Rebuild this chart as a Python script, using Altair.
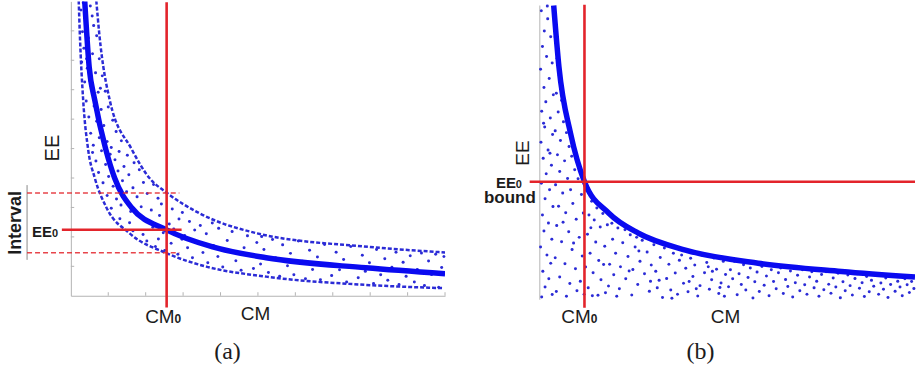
import altair as alt
import pandas as pd

# ---------------- panel (a) data ----------------
a_mid_cm = [0.37, 0.49, 0.64, 0.93, 1.17, 1.62, 2.56, 3.79, 5.22, 7.88, 10.0]
a_mid_ee = [10.03, 7.77, 6.64, 4.99, 4.0, 3.0, 2.24, 1.66, 1.29, 0.95, 0.75]
a_up_cm = [0.68, 0.76, 1.04, 1.62, 2.1, 2.56, 3.44, 4.98, 7.97, 10.0]
a_up_ee = [10.03, 8.9, 6.64, 4.99, 4.0, 3.5, 2.8, 2.12, 1.66, 1.47]
a_lo_cm = [0.21, 0.24, 0.33, 0.46, 0.64, 0.95, 1.57, 2.55, 3.62, 5.22, 7.88, 9.93]
a_lo_ee = [10.03, 8.9, 6.64, 4.99, 4.0, 3.0, 2.12, 1.45, 0.99, 0.65, 0.37, 0.26]

a_dots = [
    (0.27, 9.71), (0.52, 9.84), (0.39, 9.42), (0.61, 9.18), (0.31, 8.97), (0.47, 8.76), (0.69, 8.83), (0.35, 8.41),
    (0.58, 8.22), (0.76, 8.05), (0.29, 7.94), (0.44, 7.73), (0.66, 7.58), (0.84, 7.47), (0.37, 7.26), (0.55, 7.04),
    (0.73, 6.91), (0.92, 6.95), (0.41, 6.62), (0.62, 6.45), (0.81, 6.33), (1.0, 6.41), (0.48, 6.07), (0.69, 5.93),
    (0.88, 5.78), (1.12, 5.96), (0.53, 5.52), (0.76, 5.37), (0.97, 5.24), (1.21, 5.58), (1.35, 5.27), (0.6, 5.11),
    (1.08, 5.04), (0.33, 9.95), (0.57, 9.5), (0.42, 8.05), (0.5, 7.31), (0.79, 7.05),
    (0.58, 4.87), (0.82, 4.93), (1.05, 4.81), (1.29, 4.9), (1.51, 4.77), (0.67, 4.58), (0.93, 4.46), (1.18, 4.62),
    (1.42, 4.39), (1.69, 4.52), (0.74, 4.19), (1.01, 4.05), (1.26, 4.24), (1.55, 4.11), (1.83, 4.28), (0.86, 3.84),
    (1.13, 3.72), (1.38, 3.91), (1.66, 3.67), (1.94, 3.85), (2.21, 3.78), (0.97, 3.41), (1.22, 3.29), (1.49, 3.53),
    (1.77, 3.36), (2.04, 3.47), (2.33, 3.31), (1.08, 2.97), (1.34, 3.08), (1.6, 2.86), (1.88, 3.02), (2.15, 2.91),
    (2.42, 3.12), (2.71, 2.95), (2.98, 2.83), (1.31, 2.62), (1.57, 2.48), (1.84, 2.69), (2.09, 2.54), (2.37, 2.73),
    (2.63, 2.44), (2.89, 2.61), (3.17, 2.52), (3.46, 2.39), (3.78, 2.47), (1.66, 2.21), (1.93, 2.08), (2.19, 2.33),
    (2.47, 2.14), (2.75, 2.27), (3.04, 2.05), (3.31, 2.23), (3.62, 2.11), (3.95, 2.29), (4.31, 2.18), (4.72, 2.04),
    (5.1, 2.01),
    (2.03, 1.86), (2.26, 1.67), (2.51, 1.54), (2.34, 1.93), (2.68, 1.78), (2.86, 1.41), (2.97, 1.92), (3.12, 1.63),
    (3.25, 1.29), (3.39, 1.84), (3.53, 1.47), (3.66, 1.12), (3.81, 1.71), (3.93, 1.33), (4.06, 0.98), (4.18, 1.88),
    (4.24, 1.52), (4.41, 1.19), (4.55, 0.87), (4.63, 1.63), (4.79, 1.36), (4.88, 0.93), (4.97, 1.81),
    (5.07, 1.08), (5.16, 1.57), (5.28, 0.79), (5.39, 1.91), (5.47, 1.29), (5.58, 0.66), (5.66, 1.73), (5.79, 1.02),
    (5.87, 1.44), (5.96, 0.71), (6.08, 1.86), (6.19, 1.17), (6.27, 0.58), (6.38, 1.55), (6.46, 0.89), (6.59, 1.32),
    (6.67, 0.54), (6.78, 1.74), (6.86, 1.07), (6.97, 0.69), (7.09, 1.48), (7.18, 0.88), (7.29, 1.23), (7.37, 0.47),
    (7.48, 1.67), (7.56, 0.99), (7.68, 0.61), (7.79, 1.38), (7.87, 0.83), (7.98, 1.12), (8.09, 0.42), (8.17, 1.57),
    (8.28, 0.71), (8.39, 1.26), (8.47, 0.53), (8.58, 0.97), (8.69, 1.48), (8.77, 0.38), (8.88, 1.14), (8.96, 0.66),
    (9.07, 1.36), (9.18, 0.47), (9.26, 0.89), (9.37, 1.45), (9.45, 0.35), (9.56, 1.18), (9.64, 0.72), (9.75, 1.41),
    (9.83, 0.29), (9.91, 0.96), (9.97, 1.33),
]

a_cm0 = 2.56
a_ee0 = 2.24
a_interval = [1.46, 3.49]
a_ticks = [1, 2, 3, 4, 5, 6, 7, 8, 9]

# ---------------- panel (b) data ----------------
b_cm = [0.37, 0.51, 0.82, 1.19, 1.84, 2.63, 3.88, 5.82, 8.04, 10.0]
b_ee = [10.0, 7.91, 5.65, 4.01, 2.94, 2.26, 1.69, 1.24, 0.96, 0.77]

b_dots = [
    (0.04, 9.82), (0.21, 9.55), (0.12, 9.13), (0.29, 8.94), (0.07, 8.61), (0.18, 8.27), (0.33, 8.05), (0.02, 7.83),
    (0.25, 7.52), (0.11, 7.21), (0.36, 6.97), (0.16, 6.73), (0.05, 6.41), (0.28, 6.18), (0.13, 5.87), (0.34, 5.62),
    (0.03, 5.35), (0.22, 5.09), (0.09, 4.81), (0.31, 4.57), (0.17, 4.28), (0.04, 3.96), (0.26, 3.74), (0.14, 3.43),
    (0.35, 3.17), (0.07, 2.88), (0.23, 2.61), (0.11, 2.34), (0.32, 2.06), (0.02, 1.79), (0.19, 1.52), (0.29, 1.24),
    (0.08, 0.97), (0.24, 0.71), (0.14, 0.43), (0.33, 0.18), (0.05, 0.09), (0.2, 9.98), (0.27, 4.98), (0.1, 6.0),
    (0.41, 8.93), (0.46, 8.21), (0.52, 7.63), (0.44, 7.02), (0.58, 6.77), (0.49, 6.38), (0.63, 6.05), (0.41, 5.74),
    (0.55, 5.41), (0.71, 5.68), (0.47, 4.93), (0.66, 4.72), (0.78, 5.21), (0.53, 4.36), (0.85, 4.88), (0.74, 4.12),
    (0.42, 3.91), (0.61, 3.63), (0.93, 4.42), (0.82, 3.74), (1.02, 4.11), (0.5, 3.18), (0.69, 2.96), (0.88, 3.27),
    (1.11, 3.58), (0.45, 2.52), (0.77, 2.31), (0.97, 2.74), (1.16, 2.95), (0.58, 1.97), (0.86, 1.71), (1.05, 2.12),
    (0.41, 1.43), (0.67, 1.22), (0.95, 1.05), (1.13, 1.49), (0.53, 0.77), (0.8, 0.55), (1.08, 0.63), (0.44, 0.28),
    (0.71, 0.12), (0.99, 0.31), (1.18, 0.19), (0.62, 2.63), (0.9, 1.93),
    (1.24, 3.71), (1.31, 2.88), (1.38, 3.35), (1.27, 2.23), (1.45, 2.71), (1.52, 3.12), (1.34, 1.58), (1.49, 1.96),
    (1.61, 2.47), (1.68, 2.93), (1.42, 0.92), (1.57, 1.33), (1.73, 1.82), (1.8, 2.55), (1.29, 0.41), (1.63, 0.68),
    (1.86, 1.21), (1.94, 2.06), (1.75, 0.24), (2.02, 1.58), (2.08, 2.44), (1.97, 0.85), (2.15, 1.12), (2.21, 1.94),
    (2.12, 0.37), (2.29, 0.71), (2.35, 1.47), (2.41, 2.21), (2.27, 2.38), (2.48, 1.03), (2.54, 1.79), (2.45, 0.16),
    (2.61, 0.52), (2.67, 1.31), (2.73, 2.02), (2.79, 0.88), (2.86, 1.62), (2.92, 0.29), (2.97, 1.18), (1.36, 2.45),
    (1.55, 0.15), (1.92, 2.6), (2.58, 2.12), (1.7, 1.2), (1.83, 0.47), (2.05, 0.12), (2.38, 0.98), (2.64, 1.66),
    (2.95, 0.63), (1.22, 1.11), (1.4, 0.14),
    (3.04, 1.87), (3.09, 0.97), (3.13, 0.41), (3.21, 1.44), (3.27, 0.08), (3.32, 1.76), (3.38, 0.72), (3.44, 1.21),
    (3.49, 0.33), (3.56, 1.58), (3.61, 0.91), (3.67, 0.19), (3.72, 1.34), (3.78, 1.52), (3.83, 0.56), (3.89, 1.07),
    (3.95, 0.27), (4.02, 1.41), (4.08, 0.79), (4.13, 1.18), (4.21, 0.13), (4.27, 0.48), (4.33, 1.51), (4.39, 0.92),
    (4.45, 1.27), (4.52, 0.36), (4.58, 0.68), (4.64, 1.42), (4.71, 1.04), (4.77, 0.21), (4.83, 0.57), (4.89, 1.31),
    (4.95, 0.86), (3.18, 0.66), (3.52, 0.05), (4.17, 0.37), (4.49, 1.12), (4.8, 0.42), (3.98, 0.62), (4.6, 0.97),
    (4.92, 0.12),
    (5.03, 0.44), (5.08, 1.02), (5.14, 0.71), (5.19, 1.31), (5.26, 0.17), (5.31, 0.88), (5.37, 0.52), (5.43, 1.19),
    (5.49, 0.33), (5.55, 0.76), (5.61, 1.08), (5.68, 0.06), (5.73, 0.61), (5.79, 0.94), (5.85, 0.28), (5.92, 1.13),
    (5.98, 0.49), (6.04, 0.81), (6.11, 0.14), (6.17, 1.02), (6.23, 0.62), (6.3, 0.37), (6.36, 0.92), (6.42, 1.08),
    (6.49, 0.21), (6.55, 0.69), (6.61, 0.45), (6.68, 0.98), (6.74, 0.09), (6.81, 0.58), (6.87, 0.83), (6.93, 0.31),
    (7.0, 1.02), (7.06, 0.51), (7.12, 0.19), (7.19, 0.77), (7.25, 0.95), (7.31, 0.41), (7.38, 0.63), (7.44, 0.12),
    (7.51, 0.86), (7.57, 0.34), (7.63, 0.95), (7.7, 0.53), (7.76, 0.22), (7.82, 0.74), (7.89, 0.43), (7.95, 0.9),
    (8.01, 0.07), (8.08, 0.61), (8.14, 0.31), (8.21, 0.84), (8.27, 0.48), (8.33, 0.16), (8.4, 0.72), (8.46, 0.88),
    (8.52, 0.39), (8.59, 0.58), (8.65, 0.11), (8.71, 0.79), (8.78, 0.27), (8.84, 0.66), (8.9, 0.46), (8.97, 0.83),
    (9.03, 0.19), (9.09, 0.57), (9.16, 0.36), (9.22, 0.74), (9.28, 0.08), (9.35, 0.52), (9.41, 0.79), (9.47, 0.29),
    (9.54, 0.63), (9.6, 0.43), (9.66, 0.14), (9.73, 0.71), (9.79, 0.51), (9.85, 0.25), (9.91, 0.62), (9.97, 0.38),
]

b_cm0 = 1.19
b_ee0 = 4.01

# ---------------- styles ----------------
BLUE = "#0a0af0"
DOT = "#2b2bd6"
RED = "#e3242b"
GREY = "#b4b4b4"
INK = "#1c1c1c"
FONT = "Liberation Sans"

WA, HA = 375, 295
WB, HB = 376, 299

sxa = alt.Scale(domain=[0, 10], nice=False, zero=False)
sya = alt.Scale(domain=[0, 10], nice=False, zero=False)
sxb = alt.Scale(domain=[0, 10], nice=False, zero=False)
syb = alt.Scale(domain=[0, 10.14], nice=False, zero=False)

axis_on = alt.Axis(title=None, labels=False, ticks=False, grid=False,
                   domainColor=GREY, domainWidth=1.0)


def X(f, s, ax=True):
    return alt.X(f, type="quantitative", scale=s, axis=axis_on if ax else None, title=None)


def Y(f, s, ax=True):
    return alt.Y(f, type="quantitative", scale=s, axis=axis_on if ax else None, title=None)


def line(cm, ee, sx, sy, ax=True, **mk):
    df = pd.DataFrame({"cm": cm, "ee": ee, "o": list(range(len(cm)))})
    return alt.Chart(df).mark_line(interpolate="monotone", clip=True, **mk).encode(
        x=X("cm", sx, ax), y=Y("ee", sy, ax), order="o:Q")


def rules(df, sx, sy, ax=True, **mk):
    enc = {"x": X("cm", sx, ax), "y": Y("ee", sy, ax)}
    if "cm2" in df:
        enc["x2"] = alt.X2("cm2")
    if "ee2" in df:
        enc["y2"] = alt.Y2("ee2")
    return alt.Chart(df).mark_rule(**mk).encode(**enc)


def dots(pairs, sx, sy, ax=True):
    df = pd.DataFrame({"cm": [p[0] for p in pairs], "ee": [p[1] for p in pairs]})
    return alt.Chart(df).mark_circle(size=9, color=DOT, opacity=1).encode(
        x=X("cm", sx, ax), y=Y("ee", sy, ax))


def label(txt, x, y, size, bold=False, angle=0, align="center", baseline="middle", family=FONT, color=INK):
    kw = dict(fontSize=size, font=family, color=color, align=align, baseline=baseline,
              fontWeight="bold" if bold else "normal")
    if angle:
        kw["angle"] = angle
    return alt.Chart(pd.DataFrame({"t": [txt]})).mark_text(**kw).encode(
        text="t:N", x=alt.value(x), y=alt.value(y))


# invisible frame that pins the page's top-left corner to the figure's corner
frame = alt.Chart(pd.DataFrame({"k": [0]})).mark_rule(opacity=0, color="white").encode(
    x=alt.value(-71), x2=alt.value(846), y=alt.value(-1), y2=alt.value(370))

# ---------------- panel (a) ----------------
ticks_xa = rules(pd.DataFrame({"cm": a_ticks + [10], "ee": [0] * 10, "ee2": [0.12] * 10}), sxa, sya,
                 color=GREY, strokeWidth=1)
ticks_ya = rules(pd.DataFrame({"cm": [0] * 9, "cm2": [0.09] * 9, "ee": a_ticks}), sxa, sya,
                 color=GREY, strokeWidth=1)

bracket_a = rules(pd.DataFrame({"cm": [-1.17], "ee": [a_interval[1] + 0.27], "ee2": [a_interval[0] - 0.24]}),
                  sxa, sya, color="#8a8a8a", strokeWidth=1)
int_lines = rules(pd.DataFrame({"cm": [-1.17, -1.17], "cm2": [2.9, 2.9], "ee": a_interval}), sxa, sya,
                  color=RED, strokeWidth=1.4, strokeDash=[5, 3], opacity=0.85)
ee0_line_a = rules(pd.DataFrame({"cm": [-0.24], "cm2": [2.96], "ee": [a_ee0]}), sxa, sya,
                   color=RED, strokeWidth=2.6)
cm0_line_a = rules(pd.DataFrame({"cm": [a_cm0], "ee": [-0.4], "ee2": [9.97]}), sxa, sya,
                   color=RED, strokeWidth=2.6)

panel_a = alt.layer(
    frame, ticks_xa, ticks_ya, dots(a_dots, sxa, sya),
    line(a_up_cm, a_up_ee, sxa, sya, color=DOT, strokeWidth=2.5, strokeDash=[4, 2]),
    line(a_lo_cm, a_lo_ee, sxa, sya, color=DOT, strokeWidth=2.5, strokeDash=[4, 2]),
    line(a_mid_cm, a_mid_ee, sxa, sya, color=BLUE, strokeWidth=5.5),
    bracket_a, int_lines, ee0_line_a, cm0_line_a,
    label("EE", -18, 147, 20, angle=270),
    label("Interval", -55, 222, 18, bold=True, angle=270),
    label("EE", -19, 236, 15, bold=True, align="right", baseline="alphabetic"),
    label("0", -19, 236, 11, bold=True, align="left", baseline="alphabetic"),
    label("CM", 104, 322, 19, align="right", baseline="alphabetic"),
    label("0", 104, 322, 12, bold=True, align="left", baseline="alphabetic"),
    label("CM", 185, 319, 19, baseline="alphabetic"),
    label("(a)", 157, 351, 24, family="Liberation Serif"),
).properties(width=WA, height=HA)

# ---------------- panel (b) ----------------
left_axis_b = rules(pd.DataFrame({"cm": [0], "ee": [0], "ee2": [10.0]}), sxb, syb, False,
                    color=GREY, strokeWidth=1.0)
ee0_line_b = rules(pd.DataFrame({"cm": [-0.27], "cm2": [10.0], "ee": [b_ee0]}), sxb, syb, False,
                   color=RED, strokeWidth=2.6)
cm0_line_b = rules(pd.DataFrame({"cm": [b_cm0], "ee": [-0.27], "ee2": [10.03]}), sxb, syb, False,
                   color=RED, strokeWidth=2.6)

panel_b = alt.layer(
    left_axis_b, dots(b_dots, sxb, syb, False),
    line(b_cm, b_ee, sxb, syb, False, color=BLUE, strokeWidth=5.5),
    ee0_line_b, cm0_line_b,
    label("EE", -17, 152, 19, angle=270),
    label("EE", -24, 187, 15, bold=True, align="right", baseline="alphabetic"),
    label("0", -24, 187, 11, bold=True, align="left", baseline="alphabetic"),
    label("bound", -30, 202, 17, bold=True, baseline="alphabetic"),
    label("CM", 51, 322, 19, align="right", baseline="alphabetic"),
    label("0", 51, 322, 12, bold=True, align="left", baseline="alphabetic"),
    label("CM", 186, 322, 19, baseline="alphabetic"),
    label("(b)", 161, 351, 24, family="Liberation Serif"),
).properties(width=WB, height=HB)

chart = alt.hconcat(panel_a, panel_b, spacing=95, bounds="flush").properties(
    padding=0,
    background="white",
).configure_view(stroke=None)

chart.save("out.html", embed_options={"renderer": "svg", "actions": False})
